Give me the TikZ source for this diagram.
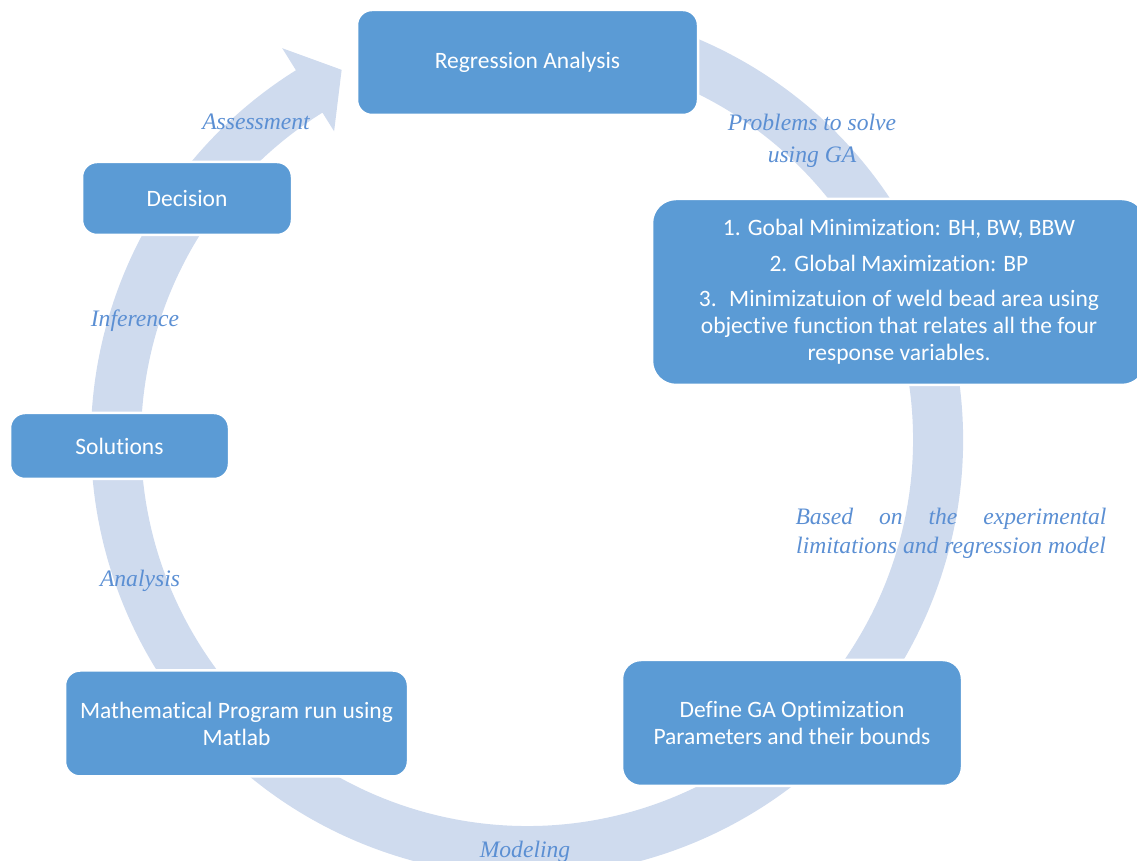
\documentclass[tikz,border=0pt]{standalone}
\usepackage{fontspec}
\setmainfont{Carlito}[Ligatures=NoCommon]
\newfontfamily\labelfont{Liberation Serif}
\definecolor{boxblue}{HTML}{5B9BD5}
\definecolor{ringblue}{HTML}{CFDBEE}
\definecolor{labblue}{HTML}{5B8FD3}
\begin{document}
\begin{tikzpicture}[x=1pt,y=1pt,
  box/.style={draw=white, line width=2.5pt, fill=boxblue, rounded corners=15pt,
    text=white, font=\fontsize{23.5}{27}\selectfont, align=center, inner sep=0pt},
  lab/.style={text=labblue, font=\labelfont\itshape\fontsize{23.6}{32}\selectfont,
    align=center, inner sep=0pt}]
\useasboundingbox (0,0) rectangle (1137,861);
\clip (0,0) rectangle (1137,861);
% ring arrow
\fill[ringblue] ([shift={(527,421)}]70:436) arc[start angle=70,end angle=-238,radius=436pt]
  -- ([shift={(527,421)}]-238:462)
  -- ([shift={(527,421)}]-243.4:414)
  -- ([shift={(527,421)}]-238:364)
  -- ([shift={(527,421)}]-238:386)
  arc[start angle=-238,end angle=70,radius=386pt] -- cycle;
% boxes
\node[box, minimum width=341pt, minimum height=105pt] (reg) at (527.5,798.5) {Regression Analysis};
\node[box, minimum width=210pt, minimum height=73pt] (dec) at (187,662.5) {Decision};
\node[box, minimum width=494pt, minimum height=186pt, rounded corners=24pt] (prob) at (899,569)
  {1. Gobal Minimization: BH, BW, BBW\\[9pt]
   2. Global Maximization: BP\\[8pt]
   3.~ Minimizatuion of weld bead area using\\
   objective function that relates all the four\\
   response variables.};
\node[box, minimum width=219pt, minimum height=66pt] (sol) at (119.5,415) {Solutions};
\node[box, minimum width=343pt, minimum height=106pt] (math) at (236.5,137.5)
  {Mathematical Program run using\\ Matlab};
\node[box, minimum width=340pt, minimum height=126pt, rounded corners=19pt] (def) at (792,138)
  {Define GA Optimization\\ Parameters and their bounds};
% labels
\node[lab] (assess) at (256,739) {Assessment};
\node[lab] (probl) at (812,720) {Problems to solve\\ using GA};
\node[lab] (infer) at (135,540) {Inference};
\node[lab] (anal) at (140,280) {Analysis};
\node[lab, font=\labelfont\itshape\fontsize{23.6}{29}\selectfont] (based) at (951,327.5)
  {\hbox to 311pt{Based\hfill on\hfill the\hfill experimental}\\ limitations and regression model};
\node[lab] (model) at (525,9) {Modeling};
\end{tikzpicture}
\end{document}
